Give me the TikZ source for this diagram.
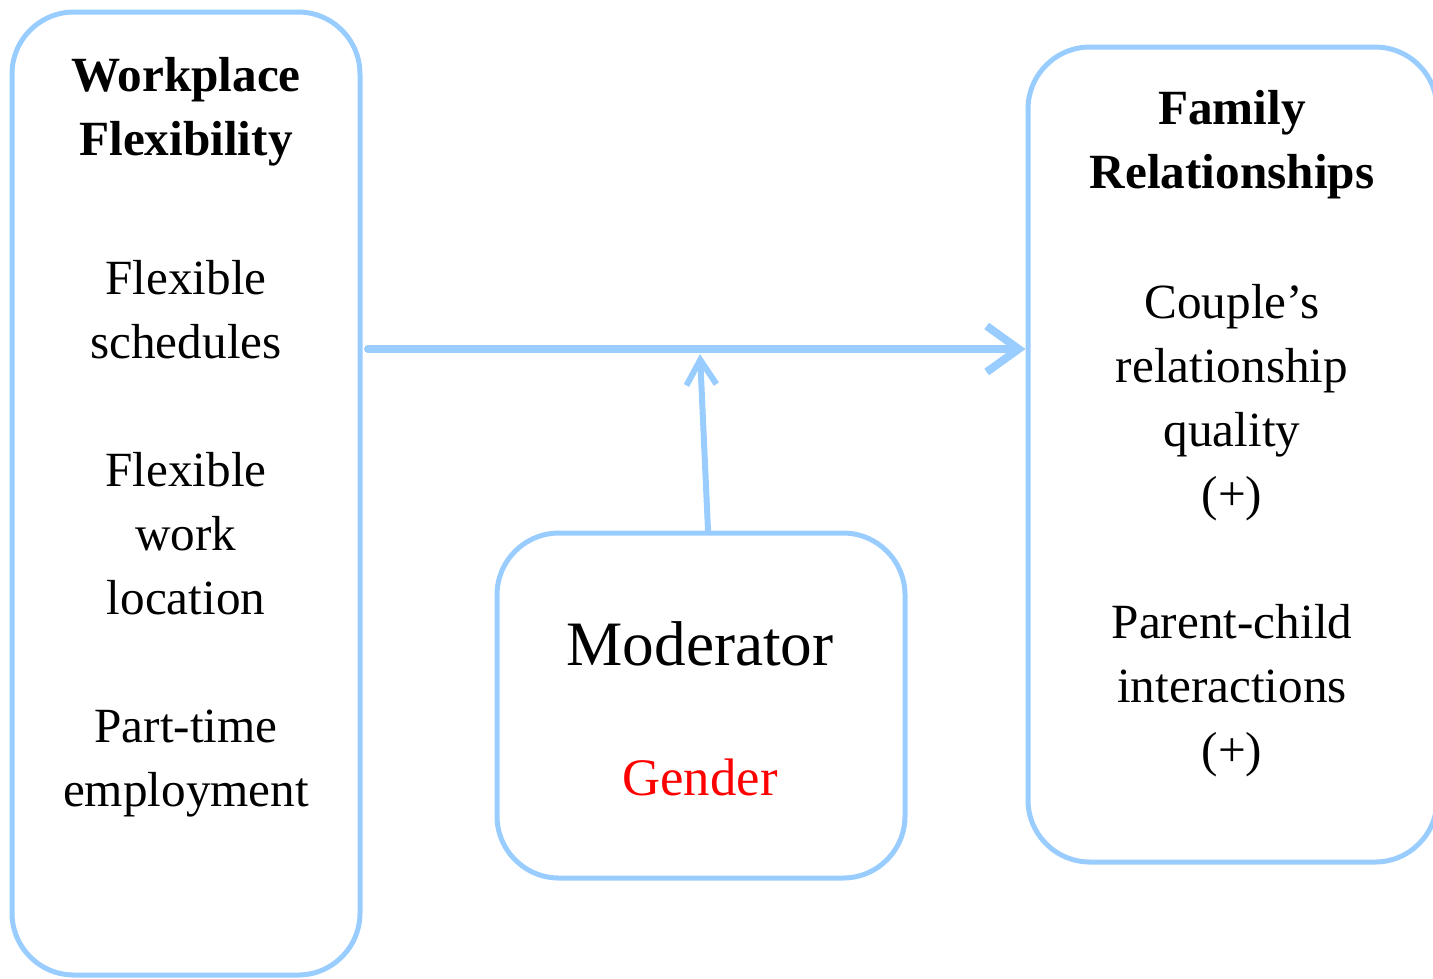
\documentclass[tikz,border=0pt]{standalone}
\usepackage{fontspec}
\setmainfont{Liberation Serif}
\usetikzlibrary{arrows.meta}
\definecolor{frameblue}{RGB}{153,204,255}
\tikzset{
  box/.style={draw=frameblue, line width=0.05cm, rounded corners=0.62cm, inner sep=0pt},
  txt/.style={align=center, anchor=base, font=\fontsize{14}{18.2}\selectfont},
  head/.style={font=\bfseries\fontsize{14}{18.2}\selectfont, align=center, anchor=base},
  link/.style={draw=frameblue, line cap=round}
}
\begin{document}
\begin{tikzpicture}
\useasboundingbox (0,0) rectangle (14.33,-9.78);
% boxes
\node[box, minimum width=3.48cm, minimum height=9.63cm] (wf) at (1.86,-4.935) {};
\node[box, minimum width=4.09cm, minimum height=8.15cm] (fr) at (12.325,-4.545) {};
\node[box, minimum width=4.08cm, minimum height=3.45cm] (mod) at (7.01,-7.055) {};
% left column
\node[head] (wfhead) at (1.86,-1.55) {Workplace\\Flexibility};
\node[txt] (sched) at (1.86,-3.58) {Flexible\\schedules};
\node[txt] (loc) at (1.86,-6.14) {Flexible\\work\\location};
\node[txt] (part) at (1.86,-8.06) {Part-time\\employment};
% right column
\node[head] (frhead) at (12.32,-1.88) {Family\\Relationships};
\node[txt] (couple) at (12.32,-5.10) {Couple’s\\relationship\\quality\\(+)};
\node[txt] (parent) at (12.32,-7.66) {Parent-child\\interactions\\(+)};
% moderator
\node[anchor=base, font=\fontsize{18}{22}\selectfont] (modtxt) at (7.00,-6.65) {Moderator};
\node[anchor=base, font=\fontsize{15}{18}\selectfont, text=red] (gender) at (7.00,-7.95) {Gender};
% arrows
\coordinate (start) at (3.68,-3.49);
\coordinate (hit) at (7.00,-3.54);
\draw[link, line width=0.08cm, -{Straight Barb[length=0.32cm, width=0.46cm]}] (start) -- (fr.west |- start);
\draw[link, line width=0.06cm, -{Straight Barb[length=0.25cm, width=0.30cm]}] ([xshift=0.07cm]mod.north) -- (hit);
\end{tikzpicture}
\end{document}
